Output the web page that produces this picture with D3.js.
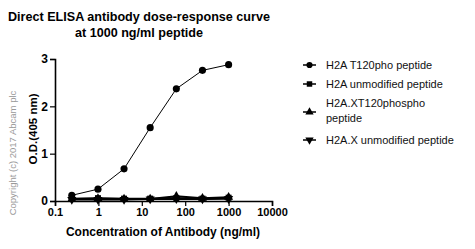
<!DOCTYPE html>
<html>
<head>
<meta charset="utf-8">
<script src="https://cdn.jsdelivr.net/npm/d3@7"></script>
<style>
  body { margin: 0; background: #fff; }
  svg text { font-family: "Liberation Sans", Arial, sans-serif; }
</style>
</head>
<body>
<svg id="chart" width="475" height="249"></svg>
<script>
// antibody concentrations (ng/ml), 4-fold dilutions
var conc = [0.244, 0.977, 3.9, 15.6, 62.5, 250, 1000]
var seriesNames = ["H2A T120pho peptide", "H2A unmodified peptide", "H2A.XT120phospho peptide", "H2A.X unmodified peptide"]
var t120pho = [0.12, 0.25, 0.68, 1.55, 2.37, 2.76, 2.88]
var h2aUnmod = [0.05, 0.06, 0.05, 0.05, 0.06, 0.05, 0.07]
var h2axPho = [0.04, 0.05, 0.04, 0.04, 0.1, 0.06, 0.08]
var h2axUnmod = [0.03, 0.03, 0.03, 0.04, 0.05, 0.04, 0.05]
var xTicks = [0.1, 1, 10, 100, 1000, 10000]
var yTicks = [0, 1, 2, 3]

var allSeries = [t120pho, h2aUnmod, h2axPho, h2axUnmod]
var symbols = [d3.symbolCircle, d3.symbolSquare, d3.symbolTriangle, d3.symbolTriangle]

var svg = d3.select("#chart")
var x = d3.scaleLog().domain([0.1, 10000]).range([55, 272])
var y = d3.scaleLinear().domain([0, 3]).range([201, 59])

// title
svg.append("text").attr("x", 139).attr("y", 21).attr("text-anchor", "middle")
    .attr("font-size", 12.6).attr("font-weight", "bold").text("Direct ELISA antibody dose-response curve")
svg.append("text").attr("x", 139).attr("y", 37).attr("text-anchor", "middle")
    .attr("font-size", 12.6).attr("font-weight", "bold").text("at 1000 ng/ml peptide")

// x axis with minor ticks
var minor = []
for (var d = 0.1; d < 10000; d *= 10) {
    for (var k = 2; k <= 9; k++) minor.push(d * k)
}
var gx = svg.append("g").attr("transform", "translate(0," + y(0) + ")")
gx.call(d3.axisBottom(x).tickValues(minor).tickSize(3).tickFormat(""))
gx.call(d3.axisBottom(x).tickValues(xTicks).tickSize(5).tickPadding(2)
    .tickFormat(function(d) { return d < 1 ? "0.1" : d3.format("d")(d) }))
gx.selectAll("path.domain").attr("stroke-width", 1.6)
gx.selectAll("line").attr("stroke-width", 1.2)
gx.selectAll("text").attr("font-size", 11).attr("font-weight", "bold").attr("fill", "#000")

// y axis with minor ticks
var gy = svg.append("g").attr("transform", "translate(" + x(0.1) + ",0)")
gy.call(d3.axisLeft(y).tickValues(d3.range(0, 3.01, 0.25)).tickSize(3).tickFormat(""))
gy.call(d3.axisLeft(y).tickValues(yTicks).tickSize(5).tickPadding(2).tickFormat(d3.format("d")))
gy.selectAll("path.domain").attr("stroke-width", 1.6)
gy.selectAll("line").attr("stroke-width", 1.2)
gy.selectAll("text").attr("font-size", 12).attr("font-weight", "bold").attr("fill", "#000")

// axis titles
svg.append("text").attr("x", 163).attr("y", 236).attr("text-anchor", "middle")
    .attr("font-size", 12).attr("font-weight", "bold").text("Concentration of Antibody (ng/ml)")
svg.append("text").attr("transform", "translate(37,129) rotate(-90)").attr("text-anchor", "middle")
    .attr("font-size", 11.5).attr("font-weight", "bold").text("O.D.(405 nm)")

// copyright
svg.append("text").attr("transform", "translate(16,153) rotate(-90)").attr("text-anchor", "middle")
    .attr("font-size", 9.5).attr("fill", "#999").text("Copyright (c) 2017  Abcam plc")

// lines and markers
var line = d3.line().x(function(d, i) { return x(conc[i]) }).y(function(d) { return y(d) })
allSeries.forEach(function(vals, s) {
    svg.append("path").datum(vals).attr("d", line).attr("fill", "none")
        .attr("stroke", "#000").attr("stroke-width", s == 0 ? 1 : 2)
    svg.selectAll(".m" + s).data(vals).enter().append("path")
        .attr("class", "m" + s)
        .attr("transform", function(d, i) {
            return "translate(" + x(conc[i]) + "," + y(d) + ")" + (s == 3 ? " rotate(180)" : "")
        })
        .attr("d", d3.symbol().type(symbols[s]).size(s == 0 ? 40 : 36))
        .attr("fill", "#000")
})

// legend
var legY = [65, 84, 112, 140]
var leg = svg.selectAll(".leg").data(seriesNames).enter().append("g")
    .attr("transform", function(d, i) { return "translate(0," + legY[i] + ")" })
leg.append("line").attr("x1", 303).attr("x2", 316).attr("y1", 0).attr("y2", 0)
    .attr("stroke", "#000").attr("stroke-width", 1.5)
leg.append("path").attr("transform", function(d, i) { return "translate(309.5,0)" + (i == 3 ? " rotate(180)" : "") })
    .attr("d", function(d, i) { return d3.symbol().type(symbols[i]).size(30)() })
    .attr("fill", "#000")
leg.each(function(d, i) {
    var t = d3.select(this).append("text").attr("x", 326).attr("y", 4)
        .attr("font-size", 11).attr("fill", "#111")
    if (i == 2) {
        t.append("tspan").attr("x", 326).attr("y", -5).text("H2A.XT120phospho")
        t.append("tspan").attr("x", 326).attr("y", 10).text("peptide")
    } else {
        t.text(d)
    }
})
</script>
</body>
</html>
